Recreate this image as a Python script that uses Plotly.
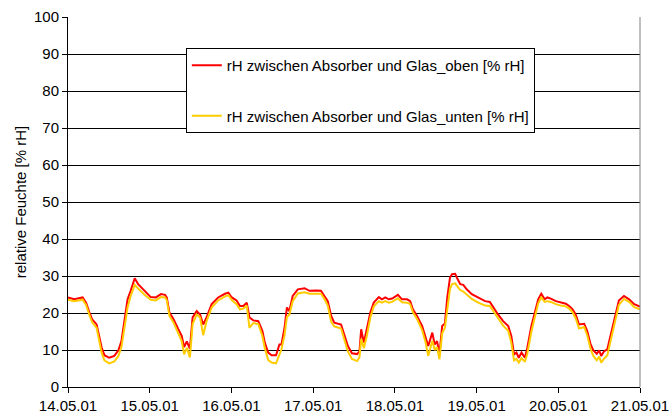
import pandas as pd
import plotly.graph_objects as go

# Measurement times in hours after 14.05.01 00:00
hours = [0, 1.8, 4.3, 5.3, 6.3, 7.1, 8.4, 9.1, 9.9, 10.7, 12.1, 13.6, 14.8, 15.7, 16.5,
         17.5, 18.4, 19.6, 20.6, 22.4, 24.3, 25.8, 27.3, 28.5, 29.0, 29.8, 31, 32.4, 33.4,
         34.1, 34.9, 35.8, 36.6, 37.8, 38.8, 39.7, 40.7, 42.2, 44.1, 46.1, 47.1, 48.1, 49.5,
         50.5, 51.5, 52.5, 53.3, 54.4, 55.9, 57.1, 57.8, 58.8, 59.8, 61.1, 62.1, 62.7, 63.6,
         64.3, 65.0, 66.0, 67.5, 69.5, 70.9, 72.9, 74.3, 75.3, 76.3, 77.3, 78.2, 80.2, 81.2,
         82.2, 83.4, 84.9, 85.6, 86.1, 86.9, 87.8, 88.8, 89.8, 91.3, 92.2, 93.2, 94.2, 95.2,
         96.9, 98.1, 99.6, 100.5, 101.3, 102.5, 104, 105, 105.8, 107, 107.7, 108.4, 109.1,
         109.9, 110.7, 111.4, 112.2, 112.8, 113.7, 114.2, 115.2, 116.1, 117.1, 118.6, 120.5,
         122.5, 123.9, 124.9, 126.3, 127.8, 129.3, 130.2, 131, 131.7, 132.4, 133.2, 134.2,
         134.9, 136.1, 137.1, 138.1, 139.0, 140.0, 140.8, 141.8, 143.3, 144.7, 146.2, 147.2,
         148.2, 149.1, 150.1, 151.6, 152.5, 153.5, 154.3, 155.3, 156.0, 156.6, 157.4, 158.4,
         159.4, 160.6, 161.8, 163.3, 164.8, 166.3, 168]

rh_oben = [24.2, 23.7, 24.2, 22.8, 20.1, 18.3, 16.9, 14.2, 10.6, 8.6, 7.9, 8.4, 9.9, 12.4, 17.8,
           23.7, 26.0, 29.4, 27.8, 26.0, 24.3, 24.2, 25.1, 24.9, 24.2, 20.1, 18.3, 15.6, 13.8,
           10.8, 12.3, 10.3, 18.8, 20.5, 19.6, 16.9, 18.8, 22.4, 24.2, 25.2, 25.5, 24.2, 23.4,
           21.9, 21.9, 22.8, 18.8, 18.0, 17.8, 15.1, 12.0, 9.3, 8.6, 8.6, 11.5, 11.5, 16.0,
           21.5, 20.5, 24.6, 26.4, 26.7, 26.0, 26.1, 26.0, 24.6, 23.2, 19.2, 17.4, 16.9, 14.2,
           11.1, 9.1, 8.9, 9.6, 15.6, 12.0, 15.6, 20.1, 22.8, 24.3, 23.7, 24.2, 23.7, 23.9,
           24.9, 23.7, 23.7, 23.2, 21.0, 19.2, 16.5, 13.8, 11.1, 14.7, 11.5, 12.4, 8.8,
           16.5, 17.2, 24.2, 29.6, 30.5, 30.6, 29.6, 27.8, 27.6, 26.4, 25.1, 24.2,
           23.2, 23.0, 21.5, 19.6, 17.8, 16.5, 13.8, 8.8, 9.3, 7.9, 9.3, 7.9,
           10.6, 16.5, 20.1, 23.7, 25.2, 23.7, 24.2, 23.9, 23.2, 22.8, 22.5, 21.9,
           21.0, 19.6, 16.9, 17.1, 15.1, 11.5, 9.9, 9.0, 9.9, 8.4, 9.6, 10.2,
           14.2, 19.2, 23.4, 24.6, 23.7, 22.4, 21.7]

rh_unten = [23.6, 23.2, 23.6, 22.2, 19.4, 17.5, 16.0, 13.0, 9.2, 7.2, 6.4, 6.9, 8.4, 10.8, 15.5,
            21.5, 24.6, 27.6, 26.6, 25.0, 23.6, 23.4, 24.3, 24.2, 23.5, 19.2, 17.4, 14.6, 12.4,
            8.8, 10.6, 8.0, 17.0, 19.6, 18.8, 14.0, 17.8, 21.5, 23.4, 24.5, 24.8, 23.5, 22.4,
            21.0, 21.2, 22.0, 16.0, 17.3, 17.0, 13.8, 10.5, 7.3, 6.6, 6.4, 9.0, 10.2, 14.0,
            19.0, 19.5, 23.2, 25.3, 25.6, 25.2, 25.3, 25.2, 23.8, 22.0, 17.6, 16.4, 15.8, 13.0,
            9.6, 7.6, 7.0, 8.0, 13.0, 10.5, 14.0, 18.8, 21.8, 23.2, 22.8, 23.2, 22.8, 23.0,
            24.0, 22.9, 22.8, 22.4, 20.2, 18.4, 15.4, 12.2, 8.4, 12.5, 10.0, 10.8, 7.5,
            14.5, 16.0, 21.0, 26.5, 27.8, 28.0, 27.4, 26.2, 25.8, 25.0, 23.8, 22.8,
            22.0, 21.9, 20.6, 18.6, 16.6, 15.2, 12.0, 7.2, 7.6, 6.6, 7.8, 6.8,
            9.0, 15.0, 18.8, 22.6, 24.2, 23.0, 23.2, 23.0, 22.4, 22.0, 21.8, 21.2,
            20.2, 18.6, 15.8, 16.2, 14.0, 10.2, 8.4, 7.2, 8.2, 6.6, 7.6, 8.6,
            12.6, 17.8, 22.2, 23.8, 23.0, 21.6, 21.0]

y_ticks = list(range(0, 101, 10))

times = pd.Timestamp("2001-05-14") + pd.to_timedelta(hours, unit="h")

font_family = "Liberation Sans, Arial, sans-serif"

fig = go.Figure()
fig.add_trace(go.Scatter(
    x=times, y=rh_oben, mode="lines",
    name="rH zwischen Absorber und Glas_oben [% rH]",
    line=dict(color="#FF0000", width=2),
    legendgroup="a",
))
fig.add_trace(go.Scatter(
    x=times, y=rh_unten, mode="lines",
    name="rH zwischen Absorber und Glas_unten [% rH]",
    line=dict(color="#FFCC00", width=2),
    legendgroup="b",
))

fig.update_layout(
    width=670, height=416,
    margin=dict(l=68, r=30, t=17, b=29),
    paper_bgcolor="white", plot_bgcolor="white",
    font=dict(family=font_family, size=15, color="black"),
    showlegend=True,
    legend=dict(
        x=0.206, y=0.916, xanchor="left", yanchor="top",
        bgcolor="white", bordercolor="black", borderwidth=1,
        traceorder="grouped", tracegroupgap=28,
        font=dict(family=font_family, size=15, color="black"),
        itemwidth=30,
    ),
    xaxis=dict(
        type="date",
        range=["2001-05-14", "2001-05-21"],
        dtick=86400000, tick0="2001-05-14",
        tickformat="%d.%m.%y",
        showgrid=False, zeroline=False,
        showline=True, linecolor="black", linewidth=1,
        ticks="outside", ticklen=5, tickcolor="black",
        tickfont=dict(size=15),
        automargin=False,
    ),
    yaxis=dict(
        range=[0, 100],
        tickvals=y_ticks,
        showgrid=True, gridcolor="black", gridwidth=1,
        zeroline=False,
        showline=True, linecolor="black", linewidth=1,
        ticks="outside", ticklen=5, tickcolor="black",
        tickfont=dict(size=15),
        title=dict(text="relative Feuchte [% rH]", font=dict(size=15), standoff=3),
        automargin=False,
    ),
    shapes=[dict(type="line", xref="paper", yref="paper", x0=1, x1=1, y0=0, y1=1,
                 line=dict(color="#808080", width=1))],
)

fig.write_html("out.html")
